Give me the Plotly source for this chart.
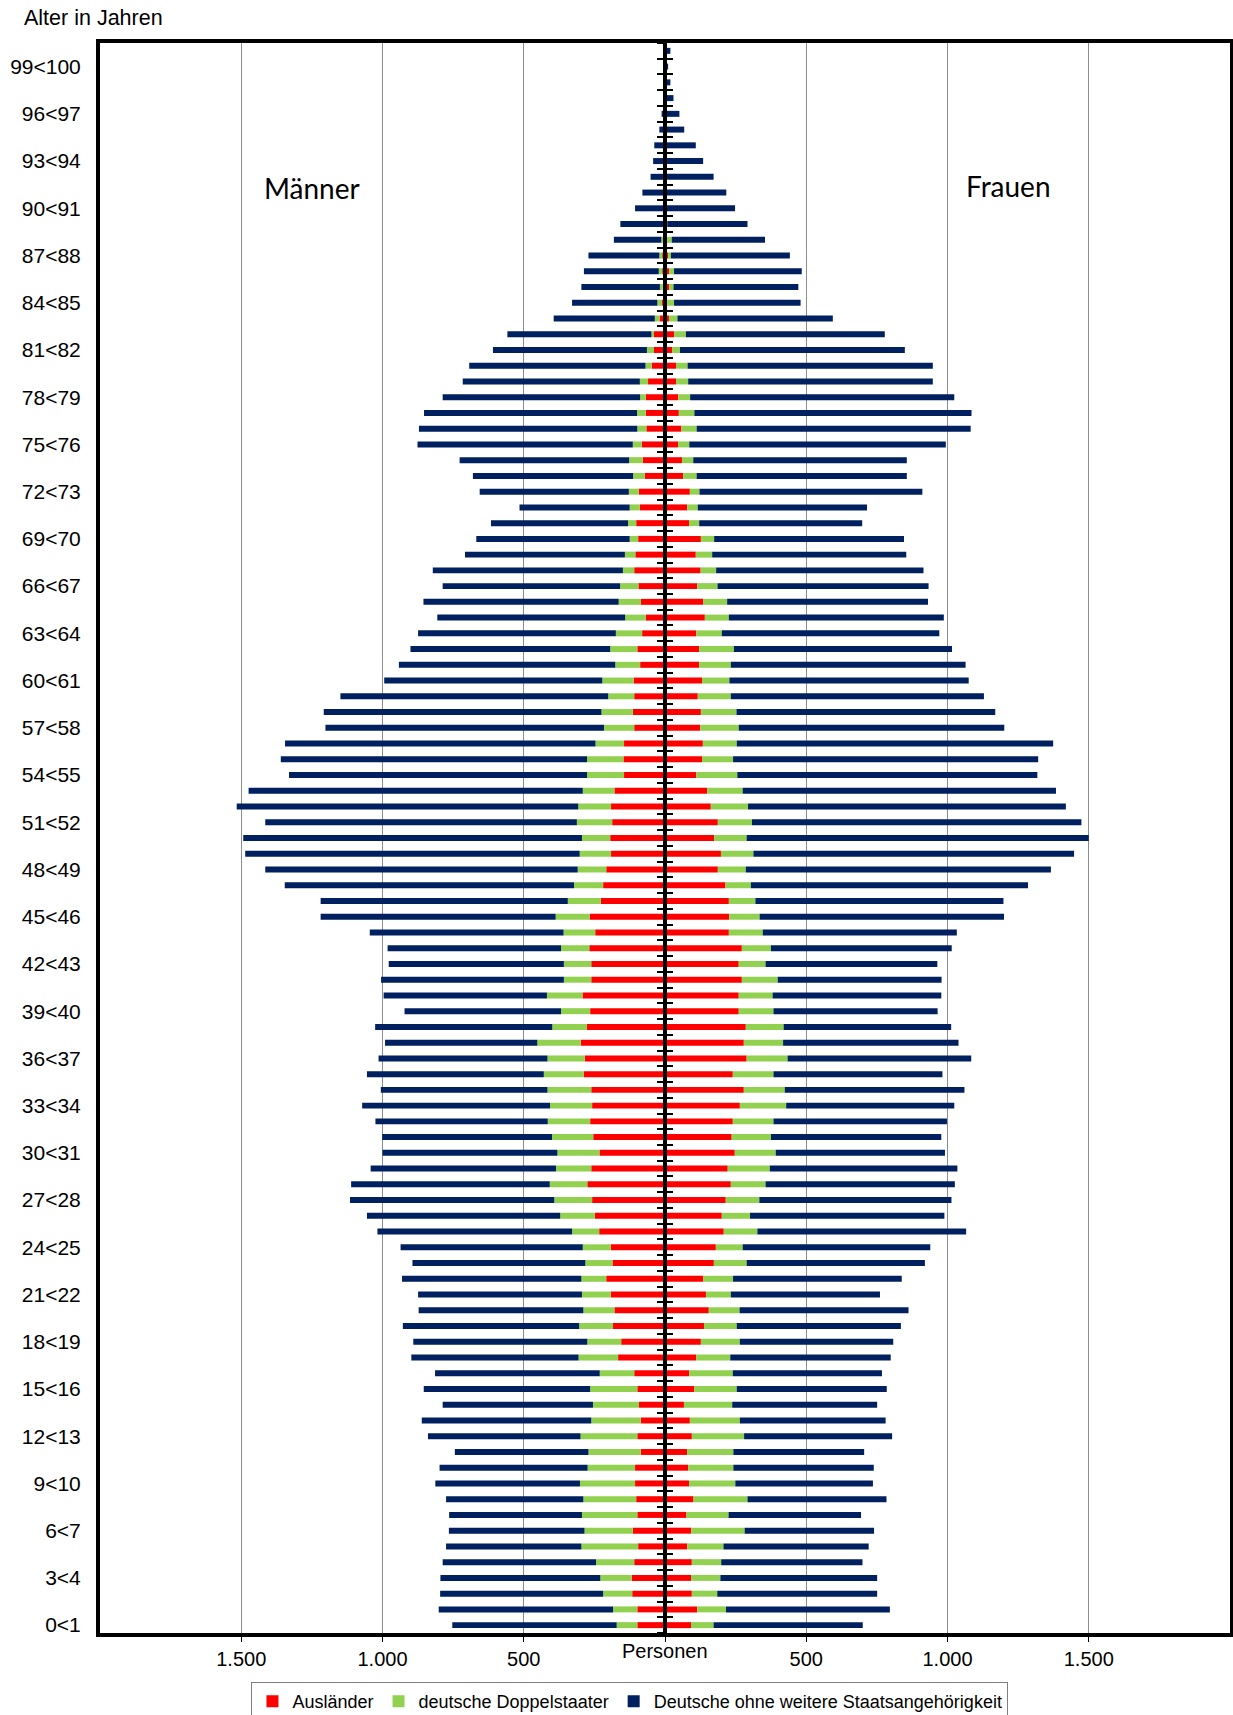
import plotly.graph_objects as go

ages = list(range(0, 101))
tick_ages = [0, 3, 6, 9, 12, 15, 18, 21, 24, 27, 30, 33, 36, 39, 42, 45, 48, 51, 54, 57,
             60, 63, 66, 69, 72, 75, 78, 81, 84, 87, 90, 93, 96, 99]
tick_labels = ["0<1", "3<4", "6<7", "9<10", "12<13", "15<16", "18<19", "21<22", "24<25",
               "27<28", "30<31", "33<34", "36<37", "39<40", "42<43", "45<46", "48<49",
               "51<52", "54<55", "57<58", "60<61", "63<64", "66<67", "69<70", "72<73",
               "75<76", "78<79", "81<82", "84<85", "87<88", "90<91", "93<94", "96<97", "99<100"]

# Männer
m_auslaender = [98, 98, 116, 118, 109, 95, 114, 98, 102, 106, 106, 86, 98, 86, 92, 98, 109,
                166, 155, 184, 179, 192, 208, 186, 192, 233, 248, 258, 275, 261, 232, 254, 265, 258,
                261, 288, 284, 298, 276, 265, 292, 261, 261, 268, 247, 267, 227, 219, 208, 191, 194,
                187, 191, 179, 145, 147, 145, 109, 114, 109, 111, 88, 98, 81, 68, 85, 94, 109,
                105, 95, 102, 89, 93, 72, 79, 82, 66, 68, 68, 60, 47, 39, 39, 19, 12,
                8, 10, 10, 5, 3, 2, 2, 1, 1, 1, 0, 0, 0, 0, 0, 0]
m_doppel = [73, 86, 103, 111, 135, 201, 171, 196, 187, 195, 168, 185, 201, 175, 163, 167, 122,
            140, 120, 120, 110, 102, 88, 96, 99, 96, 123, 134, 133, 125, 149, 146, 150, 149,
            155, 141, 132, 154, 123, 103, 126, 97, 97, 100, 112, 120, 117, 103, 101, 111, 100,
            125, 116, 112, 131, 129, 101, 107, 111, 92, 111, 88, 96, 93, 73, 79, 65, 40,
            37, 30, 29, 36, 35, 41, 48, 32, 32, 31, 20, 29, 22, 25, 9, 17, 15,
            10, 12, 10, 8, 4, 3, 2, 2, 1, 1, 1, 1, 0, 0, 0, 0]
m_deutsch = [582, 617, 577, 566, 543, 479, 480, 470, 486, 512, 524, 473, 540, 600, 532, 589, 583,
             592, 616, 624, 583, 580, 635, 612, 645, 689, 684, 723, 703, 656, 619, 601, 610, 665,
             590, 626, 598, 539, 627, 554, 578, 647, 620, 614, 686, 832, 875, 1024, 1106, 1184, 1199,
             1103, 1209, 1183, 1055, 1084, 1099, 986, 983, 948, 772, 766, 707, 700, 665, 691, 628, 673,
             566, 543, 485, 390, 528, 567, 600, 762, 773, 754, 699, 627, 624, 545, 510, 358, 302,
             278, 265, 251, 168, 151, 101, 76, 48, 40, 36, 19, 11, 4, 4, 4, 3]

# Frauen
f_auslaender = [92, 114, 95, 92, 95, 79, 93, 76, 101, 85, 82, 78, 95, 88, 67, 104, 86,
                111, 127, 138, 155, 145, 136, 173, 180, 208, 201, 215, 233, 222, 247, 236, 240, 265,
                279, 240, 289, 279, 286, 261, 261, 272, 261, 272, 226, 227, 226, 214, 187, 198, 174,
                187, 162, 149, 111, 131, 134, 125, 127, 116, 131, 121, 121, 111, 141, 136, 114, 126,
                109, 127, 85, 79, 88, 64, 60, 46, 58, 49, 47, 39, 39, 25, 32, 14, 8,
                15, 15, 11, 8, 3, 2, 2, 1, 1, 1, 0, 0, 0, 0, 0, 0]
f_doppel = [80, 102, 90, 104, 104, 128, 189, 149, 191, 164, 160, 164, 185, 177, 171, 150, 154,
            120, 138, 116, 109, 88, 105, 116, 95, 119, 100, 119, 123, 149, 145, 139, 144, 164,
            145, 144, 145, 139, 134, 123, 120, 127, 95, 103, 120, 108, 94, 90, 99, 115, 115,
            121, 132, 126, 145, 110, 120, 136, 126, 117, 97, 112, 123, 90, 85, 84, 72, 55,
            58, 47, 36, 37, 34, 48, 40, 40, 54, 55, 42, 43, 41, 28, 42, 30, 24,
            15, 17, 10, 16, 5, 5, 3, 3, 2, 1, 2, 1, 1, 0, 0, 0]
f_deutsch = [528, 580, 566, 555, 500, 514, 458, 469, 492, 487, 497, 463, 524, 516, 513, 531, 528,
             568, 543, 581, 598, 528, 597, 631, 664, 739, 688, 680, 670, 664, 599, 603, 614, 595,
             636, 598, 650, 621, 593, 581, 597, 580, 608, 640, 687, 865, 878, 981, 1080, 1135, 1211,
             1166, 1125, 1109, 1062, 1080, 1120, 940, 916, 896, 847, 831, 772, 770, 761, 711, 747, 734,
             687, 672, 577, 599, 789, 744, 756, 908, 970, 981, 935, 866, 868, 796, 704, 550, 448,
             442, 452, 421, 330, 284, 241, 212, 168, 132, 107, 66, 50, 29, 19, 11, 19]

series_names = ["Ausländer", "deutsche Doppelstaater", "Deutsche ohne weitere Staatsangehörigkeit"]
series_colors = ["#FF0000", "#92D050", "#002060"]
x_tickvals = [-1500, -1000, -500, 0, 500, 1000, 1500]
x_ticktext = ["1.500", "1.000", "500", "", "500", "1.000", "1.500"]

BAR_W = 0.38
fig = go.Figure()
men = [m_auslaender, m_doppel, m_deutsch]
women = [f_auslaender, f_doppel, f_deutsch]
for name, color, vals in zip(series_names, series_colors, men):
    fig.add_trace(go.Bar(
        y=ages, x=[-v for v in vals], orientation="h", name=name, yaxis="y2",
        marker=dict(color=color, line=dict(width=0)), width=BAR_W,
        legendgroup=name, showlegend=True,
        customdata=vals, hovertemplate="Männer %{y}: %{customdata}<extra>" + name + "</extra>"))
for name, color, vals in zip(series_names, series_colors, women):
    fig.add_trace(go.Bar(
        y=ages, x=vals, orientation="h", name=name, yaxis="y3",
        marker=dict(color=color, line=dict(width=0)), width=BAR_W,
        legendgroup=name, showlegend=False,
        hovertemplate="Frauen %{y}: %{x}<extra>" + name + "</extra>"))

boundaries = [a - 0.5 for a in ages] + [100.5]
YR = [-0.5, 100.5]
center_axis = dict(overlaying="y", anchor="free", position=0.5, side="left",
                   range=YR, showline=True, linecolor="black", linewidth=4,
                   tickmode="array", tickvals=boundaries, ticklen=6, tickwidth=2,
                   tickcolor="black", showticklabels=False, showgrid=False, zeroline=False,
                   automargin=False)

fig.update_layout(
    width=1233, height=1715,
    margin=dict(l=100, r=3, t=43, b=82, autoexpand=False),
    paper_bgcolor="white", plot_bgcolor="white",
    barmode="relative",
    font=dict(family="Liberation Sans, Arial, sans-serif", size=20, color="black"),
    xaxis=dict(range=[-2000, 2000], tickmode="array", tickvals=x_tickvals, ticktext=x_ticktext,
               showgrid=True, gridcolor="#8c8c8c", gridwidth=1, zeroline=False,
               showline=True, linecolor="black", linewidth=4, mirror=True,
               ticks="outside", ticklen=5, tickcolor="black", tickwidth=1,
               tickfont=dict(size=20), automargin=False),
    yaxis=dict(range=YR, tickmode="array", tickvals=tick_ages, ticktext=tick_labels,
               showgrid=False, zeroline=False, showline=True, linecolor="black",
               linewidth=4, mirror=True, ticks="outside", ticklen=11,
               tickcolor="rgba(0,0,0,0)", tickfont=dict(size=21), automargin=False),
    yaxis2=dict(center_axis, ticks="outside"),
    yaxis3=dict(center_axis, ticks="inside"),
    legend=dict(orientation="h", x=0.469, xanchor="center", y=-0.0308, yanchor="top",
                bordercolor="#7f7f7f", borderwidth=1, font=dict(size=18),
                itemwidth=30, traceorder="normal"),
    annotations=[
        dict(text="Alter in Jahren", xref="paper", yref="paper", x=-0.0689, y=1.016,
             xanchor="left", yanchor="middle", showarrow=False, font=dict(size=21.5)),
        dict(text="Männer", xref="x", yref="y", x=-1249, y=91.3, showarrow=False,
             font=dict(family="Lato, sans-serif", size=28)),
        dict(text="Frauen", xref="x", yref="y", x=1217, y=91.4, showarrow=False,
             font=dict(family="Lato, sans-serif", size=28)),
        dict(text="Personen", xref="x", yref="paper", x=0, y=-0.0113, yanchor="middle",
             showarrow=False, font=dict(size=20)),
    ],
)
fig.write_html("out.html", config={"displayModeBar": False},
               post_script="document.body.style.margin='0';document.body.style.overflow='hidden';")
